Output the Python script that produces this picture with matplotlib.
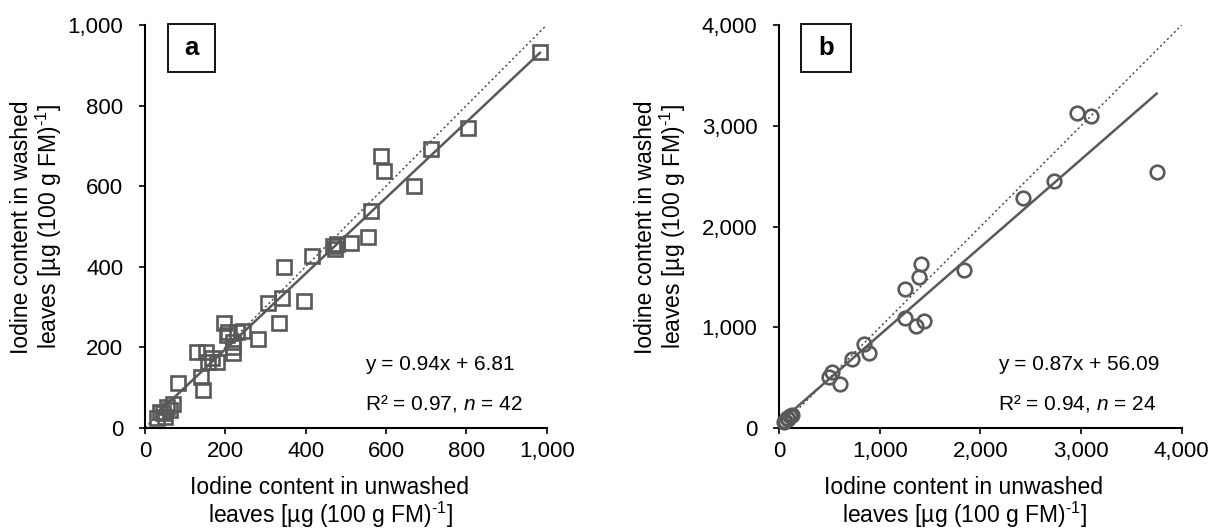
import matplotlib
matplotlib.use("Agg")
import matplotlib.pyplot as plt
import numpy as np

plt.rcParams['font.family'] = ['Liberation Sans', 'DejaVu Sans']
plt.rcParams['mathtext.fontset'] = 'custom'
plt.rcParams['mathtext.rm'] = 'Liberation Sans'
plt.rcParams['mathtext.it'] = 'Liberation Sans:italic'
plt.rcParams['mathtext.bf'] = 'Liberation Sans:bold'

# Panel a: unwashed vs washed leaves (µg per 100 g FM)
unwashed_a = [983, 805, 711, 670, 588, 595, 563, 555, 514, 477, 473, 469,
              416, 346, 340, 305, 396, 334, 282, 197, 245, 207, 228, 203,
              220, 220, 220, 129, 151, 158, 178, 166, 81, 139, 144, 69,
              56, 46, 49, 29, 63, 37]
washed_a = [934, 744, 691, 600, 675, 638, 539, 473, 458, 455, 443, 450,
            427, 400, 323, 310, 315, 261, 220, 259, 241, 238, 238, 230,
            201, 185, 214, 189, 189, 162, 162, 172, 110, 125, 94, 59,
            52, 36, 27, 25, 45, 40]
slope_a, icpt_a, r2_a = 0.94, 6.81, 0.97

# Panel b
unwashed_b = [3751, 2963, 3098, 2734, 2420, 1837, 1410, 1393, 1251, 1251,
              1360, 1443, 847, 894, 722, 523, 500, 606, 109, 76, 60, 93,
              50, 126]
washed_b = [2546, 3125, 3098, 2453, 2288, 1570, 1627, 1498, 1379, 1091,
            1015, 1068, 836, 750, 684, 562, 512, 440, 122, 99, 75, 89,
            65, 132]
slope_b, icpt_b, r2_b = 0.87, 56.09, 0.94

ticks_a = [0, 200, 400, 600, 800, 1000]
ticks_b = [0, 1000, 2000, 3000, 4000]

xlab = ['Iodine content in unwashed', r'leaves [µg (100 g FM)$^{\text{-1}}$]']
ylab = ['Iodine content in washed', r'leaves [µg (100 g FM)$^{\text{-1}}$]']

GRAY = '#595959'
W, H = 1213, 531
fig = plt.figure(figsize=(W / 100, H / 100), dpi=100)


def px_axes(x0, x1, y_top, y_bot):
    return fig.add_axes([x0 / W, 1 - y_bot / H, (x1 - x0) / W, (y_bot - y_top) / H])


def panel(ax, x, y, slope, icpt, r2, ticks, marker, tag, tag_box, eq_x, ylab_x, xlab_x):
    lim = ticks[-1]
    ax.set_xlim(0, lim)
    ax.set_ylim(0, lim)
    # 1:1 reference line
    ax.plot([0, lim], [0, lim], ls=(0, (1.5, 2.0)), color='#404040', lw=1.0, zorder=1)
    # fitted regression line
    xs = np.array([min(x), max(x)])
    ax.plot(xs, slope * xs + icpt, color=GRAY, lw=1.8, zorder=2)
    ax.plot(x, y, ls='none', marker=marker, ms=10 if marker == 's' else 9.8,
            mfc='none', mec=GRAY, mew=1.9, zorder=3, clip_on=False)
    for side in ('top', 'right'):
        ax.spines[side].set_visible(False)
    for side in ('left', 'bottom'):
        ax.spines[side].set_linewidth(1.5)
        ax.spines[side].set_color('black')
    ax.set_xticks(ticks)
    ax.set_yticks(ticks)
    labels = [f'{t:,}' for t in ticks]
    ax.set_xticklabels(labels)
    ax.set_yticklabels(labels)
    ax.tick_params(axis='both', direction='out', length=4, width=1.2, labelsize=16)
    ax.tick_params(axis='y', pad=11.5)
    ax.tick_params(axis='x', pad=5.5)

    # regression equation and statistics
    fig.text(eq_x / W, 1 - 365 / H, f'y = {slope:.2f}x + {icpt:.2f}',
             fontsize=15, va='center', ha='left')
    fig.text(eq_x / W, 1 - 403 / H, rf'R² = {r2:.2f}, $\mathit{{n}}$ = {len(x)}',
             fontsize=15, va='center', ha='left')

    # axis titles
    fig.text(ylab_x / W, 1 - 227 / H, '\n'.join(ylab), rotation=90, ha='center',
             va='center', fontsize=16.5, linespacing=1.05)
    fig.text(xlab_x / W, 1 - 503 / H, '\n'.join(xlab), ha='center', va='center',
             fontsize=16.5, linespacing=1.05)

    # boxed panel tag
    bx0, bx1 = tag_box
    fig.patches.append(plt.Rectangle((bx0 / W, 1 - 72 / H), (bx1 - bx0) / W, 48 / H,
                                     transform=fig.transFigure, fill=False,
                                     ec='black', lw=1.3))
    fig.text((bx0 + bx1) / 2 / W, 1 - 48 / H, tag, ha='center', va='center',
             fontsize=18.5, fontweight='bold')


ax_a = px_axes(145, 546.7, 25, 427.7)
ax_b = px_axes(779, 1181.7, 25, 428.3)

panel(ax_a, unwashed_a, washed_a, slope_a, icpt_a, r2_a, ticks_a, 's', 'a',
      (168, 215), 365, 37, 330)
panel(ax_b, unwashed_b, washed_b, slope_b, icpt_b, r2_b, ticks_b, 'o', 'b',
      (801, 851), 998, 661, 964)

fig.savefig('out.png', dpi=100)
